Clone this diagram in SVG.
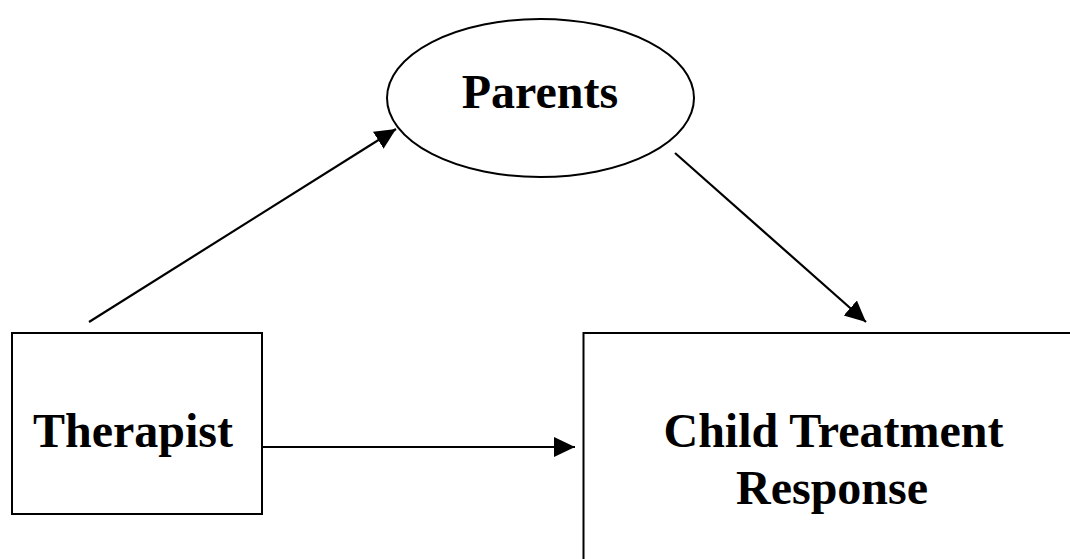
<svg xmlns="http://www.w3.org/2000/svg" width="1070" height="559" viewBox="0 0 1070 559">
  <style>
    .shape { fill: #ffffff; stroke: #000000; stroke-width: 2; }
    .label { font-family: "Liberation Serif", "Times New Roman", serif; font-weight: bold; font-size: 48px; fill: #000000; text-anchor: middle; }
    .conn { stroke: #000000; stroke-width: 2.2; fill: none; marker-end: url(#arrow); }
  </style>
  <defs>
    <marker id="arrow" markerUnits="userSpaceOnUse" markerWidth="22" markerHeight="22" viewBox="0 0 22 20" refX="21" refY="10" orient="auto">
      <path d="M0,0 L21,10 L0,20 Z" fill="#000000"/>
    </marker>
  </defs>
  <rect width="1070" height="559" fill="#ffffff"/>
  <g id="parents">
    <ellipse class="shape" cx="540.5" cy="98" rx="153.5" ry="79"/>
    <text class="label" x="540" y="108">Parents</text>
  </g>
  <g id="therapist">
    <rect class="shape" x="12" y="333" width="250" height="181"/>
    <text class="label" x="133" y="447">Therapist</text>
  </g>
  <g id="child-treatment-response">
    <rect class="shape" x="583.5" y="333" width="520" height="260"/>
    <text class="label" x="833.5" y="447">Child Treatment</text>
    <text class="label" x="832" y="504">Response</text>
  </g>
  <g id="connectors">
    <line class="conn" x1="89" y1="322" x2="396" y2="129"/>
    <line class="conn" x1="675" y1="153" x2="866" y2="322"/>
    <line class="conn" x1="262" y1="447" x2="575" y2="447"/>
  </g>
</svg>
